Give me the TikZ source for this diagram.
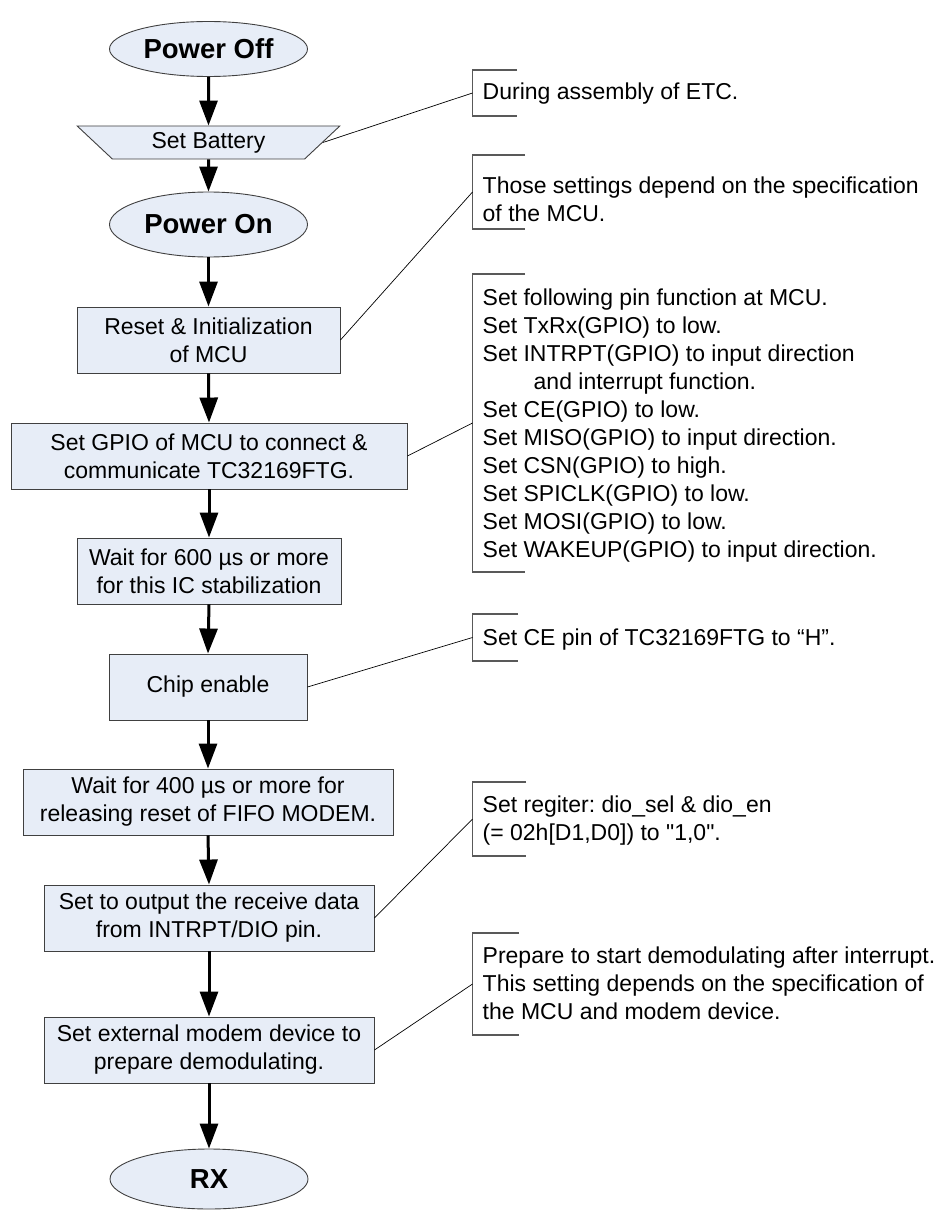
\documentclass[tikz,border=0pt]{standalone}
\usepackage{fontspec}
\setmainfont{Liberation Sans}
\newfontfamily\arialfont{Liberation Sans}
\usetikzlibrary{shapes.geometric,arrows.meta}
\frenchspacing

\definecolor{shapefill}{HTML}{E7EDF7}
\definecolor{shapeline}{HTML}{404040}

\tikzset{
  term/.style={ellipse, draw=shapeline, fill=shapefill, line width=0.9pt,
    minimum width=198pt, inner sep=0pt, font=\arialfont\fontsize{27.5}{33}\selectfont\bfseries},
  proc/.style={rectangle, draw=shapeline, fill=shapefill, line width=0.9pt,
    minimum height=66pt, inner sep=0pt, align=center, font=\arialfont\fontsize{23}{28}\selectfont},
  manual/.style={trapezium, trapezium angle=45, shape border rotate=180,
    trapezium stretches=true, minimum width=263pt, minimum height=33pt,
    draw=shapeline, fill=shapefill, line width=0.9pt, inner sep=0pt,
    font=\arialfont\fontsize{23}{28}\selectfont},
  flow/.style={-{Triangle[width=18pt,length=25pt]}, line width=3pt},
  callout/.style={line width=0.7pt},
  bracket/.style={draw=black!65, line width=1.2pt},
  note/.style={anchor=base west, inner sep=0pt, align=left, font=\arialfont\fontsize{23}{28}\selectfont}
}

\begin{document}
\begin{tikzpicture}[x=1pt, y=-1pt]
        \useasboundingbox (0,0) rectangle (941,1212);

        % Flow chart
        \node[term, minimum height=55pt] (poweroff) at (208.5,49) {Power Off};
        \node[manual] (battery) at (208.5,142.5) {Set Battery};
        \node[term, minimum height=65pt] (poweron) at (208.5,224.5) {Power On};
        \node[proc, minimum width=263pt] (reset) at (208.5,340) {Reset \& Initialization\\of MCU};
        \node[proc, minimum width=396pt] (gpio) at (209,456) {Set GPIO of MCU to connect \&\\communicate TC32169FTG.};
        \node[proc, minimum width=264pt] (wait600) at (209,571) {Wait for 600 µs or more\\for this IC stabilization};
        \node[proc, minimum width=198pt] (chip) at (208,687) {Chip enable};
        \node[proc, minimum width=370pt] (wait400) at (208,802) {Wait for 400 µs or more for\\releasing reset of FIFO MODEM.};
        \node[proc, minimum width=330pt] (output) at (209,918) {Set to output the receive data\\from INTRPT/DIO pin.};
        \node[proc, minimum width=330pt] (extmodem) at (209,1050) {Set external modem device to\\prepare demodulating.};
        \node[term, minimum height=60pt] (rx) at (209,1179) {RX};

        % Arrows
        \foreach \a/\b in {poweroff/battery, battery/poweron, poweron/reset, reset/gpio,
                           gpio/wait600, wait600/chip, chip/wait400, wait400/output,
                           output/extmodem, extmodem/rx}
          \draw[flow] (\a.south) -- (\b.north);

        % Note brackets
        \foreach \name/\ya/\yb/\arm in {n1/70/116/517, n2/155/229/525, n3/274/572/525,
                                        n4/614/661/518, n5/782/856/526, n6/933/1035/519} {
          \draw[bracket] (\arm,\ya) -- (472.5,\ya) -- (472.5,\yb) -- (\arm,\yb);
          \coordinate (\name) at (472.5,{(\ya+\yb)/2});
        }

        % Notes (base = last line)
        \node[note] (t1) at (482.5,100) {During assembly of ETC.};
        \node[note] (t2) at (482.5,221) {Those settings depend on the specification\\of the MCU.};
        \node[note] (t3) at (482.5,557) {Set following pin function at MCU.\\
          Set TxRx(GPIO) to low.\\
          Set INTRPT(GPIO) to input direction\\
          \hspace*{51pt}and interrupt function.\\
          Set CE(GPIO) to low.\\
          Set MISO(GPIO) to input direction.\\
          Set CSN(GPIO) to high.\\
          Set SPICLK(GPIO) to low.\\
          Set MOSI(GPIO) to low.\\
          Set WAKEUP(GPIO) to input direction.};
        \node[note] (t4) at (482.5,645) {Set CE pin of TC32169FTG to “H”.};
        \node[note] (t5) at (482.5,840) {Set regiter: dio\_sel \& dio\_en\\(= 02h[D1,D0]) to "1,0".};
        \node[note] (t6) at (482.5,1019) {Prepare to start demodulating after interrupt.\\
          This setting depends on the specification of\\the MCU and modem device.};

        % Callout lines
        \draw[callout] (battery.east) -- (n1);
        \draw[callout] (reset.east) -- (n2);
        \draw[callout] (gpio.east) -- (n3);
        \draw[callout] (chip.east) -- (n4);
        \draw[callout] (output.east) -- (n5);
        \draw[callout] (extmodem.east) -- (n6);

\end{tikzpicture}
\end{document}
